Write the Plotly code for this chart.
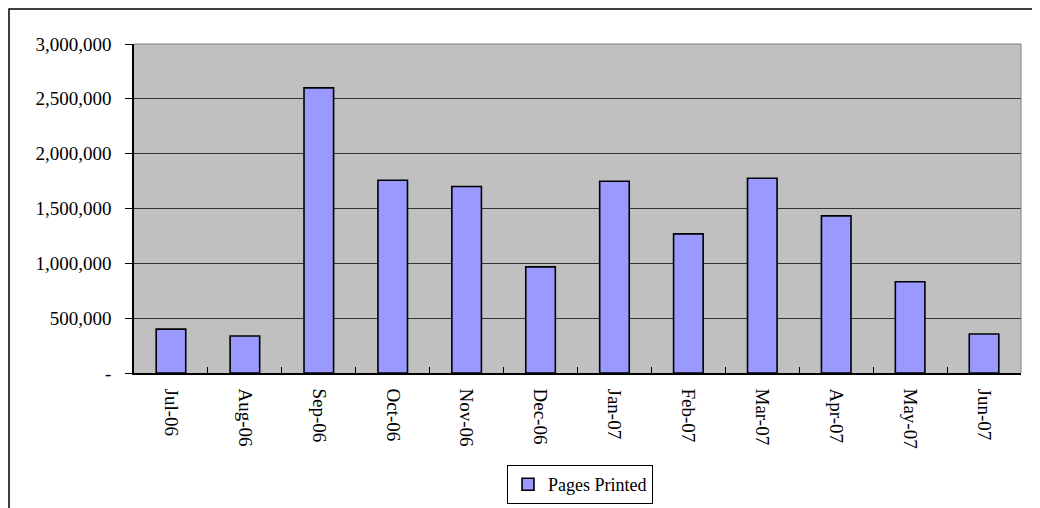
import plotly.graph_objects as go

months = ["Jul-06", "Aug-06", "Sep-06", "Oct-06", "Nov-06", "Dec-06",
          "Jan-07", "Feb-07", "Mar-07", "Apr-07", "May-07", "Jun-07"]
pages_printed = [400000, 337000, 2600000, 1758000, 1700000, 968000,
                 1749000, 1269000, 1776000, 1433000, 832000, 355000]
y_tick_vals = [0, 500000, 1000000, 1500000, 2000000, 2500000, 3000000]
y_tick_text = ["-", "500,000", "1,000,000", "1,500,000", "2,000,000", "2,500,000", "3,000,000"]

W, H = 1040, 508
OFF = 8  # page body offset observed in rendering
# desired plot area in screen pixels
PL, PR, PT, PB = 134, 1021, 44, 373
L = PL - OFF
T = PT - OFF
R = W - (PR - OFF)
B = H - (PB - OFF)
pw, ph = PR - PL, PB - PT

def px_x(x):
    return (x - PL) / pw

def px_y(y):
    return (PB - y) / ph

font_family = "Liberation Serif, Times New Roman, serif"

fig = go.Figure(go.Bar(
    x=months, y=pages_printed, name="Pages Printed",
    marker=dict(color="#9999FF", line=dict(color="#000000", width=1.6)),
    showlegend=True,
))

fig.update_layout(
    width=W, height=H,
    margin=dict(l=L, r=R, t=T, b=B, autoexpand=False),
    paper_bgcolor="white", plot_bgcolor="#C0C0C0",
    bargap=0.6,
    font=dict(family=font_family, size=19, color="#000000"),
    showlegend=True,
    legend=dict(
        orientation="h", x=px_x(580), xanchor="center",
        y=px_y(465), yanchor="top",
        bordercolor="#000000", borderwidth=1, bgcolor="white",
        font=dict(family=font_family, size=18),
    ),
    xaxis=dict(
        type="category", tickangle=90,
        showline=True, linecolor="#000000", linewidth=1.5,
        ticks="inside", tickson="boundaries", ticklen=6, tickcolor="#000000",
        showgrid=False, mirror=False,
        tickfont=dict(family=font_family, size=19),
        ticklabelstandoff=10,
    ),
    yaxis=dict(
        range=[0, 3000000], tickvals=y_tick_vals, ticktext=y_tick_text,
        showline=True, linecolor="#000000", linewidth=1.5,
        ticks="outside", ticklen=7, tickcolor="#000000",
        showgrid=True, gridcolor="#333333", gridwidth=1,
        zeroline=False,
        tickfont=dict(family=font_family, size=19),
        ticklabelstandoff=10,
    ),
    shapes=[
        dict(type="line", xref="paper", yref="paper",
             x0=1, x1=1, y0=0, y1=1,
             line=dict(color="#808080", width=1)),
        dict(type="line", xref="paper", yref="paper",
             x0=0, x1=1, y0=1, y1=1,
             line=dict(color="#808080", width=1)),
        dict(type="rect", xref="paper", yref="paper",
             x0=px_x(9), x1=px_x(1037), y0=px_y(9), y1=px_y(530),
             line=dict(color="#000000", width=1.5), layer="below"),
    ],
)

fig.write_html("out.html")
